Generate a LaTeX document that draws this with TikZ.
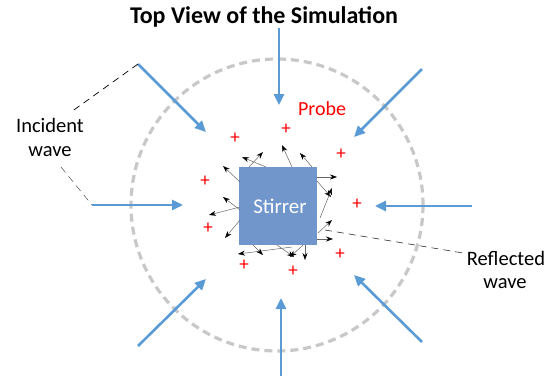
\documentclass[tikz,border=0pt]{standalone}
\usepackage{fontspec}
\setmainfont{Carlito}
\usepackage{xcolor}
\usetikzlibrary{arrows.meta}

\definecolor{wave}{RGB}{91,155,213}
\definecolor{stirfill}{RGB}{112,150,204}
\definecolor{ring}{RGB}{200,200,200}

\tikzset{
  incident/.style={wave,line width=2.6pt,-{Triangle[length=11pt,width=10pt]}},
  reflected/.style={black!60,line width=0.5pt,-{Stealth[color=black,length=7pt,width=5pt]}},
  leader/.style={black,line width=0.7pt,dash pattern=on 7pt off 5pt},
  probemark/.style={red,font=\fontsize{19}{19}\selectfont,inner sep=0pt},
  lbl/.style={font=\fontsize{20.5}{20.5}\selectfont,anchor=base,inner sep=0pt},
}

\begin{document}
\begin{tikzpicture}[x=1pt,y=-1pt]
  \useasboundingbox (0,0) rectangle (550,381);
  % title
  \node[font=\bfseries\fontsize{24}{24}\selectfont,anchor=base,inner sep=0pt] (title) at (264,23) {Top View of the Simulation};
  % simulation boundary
  \draw[ring,line width=3.2pt,dash pattern=on 8pt off 5pt] (277,205) circle[radius=146];
  % incident waves
  \foreach \n/\sx/\sy/\ex/\ey in {t/279/28/279/105, tl/138/64/206/132, tr/422/69/354/137,
      l/92/205/183/205, r/472/206/375/206, bl/138/346/206/279, b/281/376/281/298, br/422/342/354/275}
  {
    \coordinate (in\n) at (\sx,\sy);
    \draw[incident] (in\n) -- (\ex,\ey);
  }
  % stirrer
  \node[fill=stirfill,minimum width=78pt,minimum height=78pt,inner sep=0pt] (stirrer) at (278,206) {};
  \node[lbl,white,font=\fontsize{21}{21}\selectfont] (stirtext) at (280,213) {Stirrer};
  % reflected waves
  \foreach \xa/\ya/\xb/\yb in {249/167/263/152, 266/167/242/157, 292/167/282/145, 312/167/300/153,
      317/177/337/177, 317/181/331/197, 320/218/332/188, 318/233/332/220, 317/239/333/239,
      305/245/305/260, 303/245/290/257, 277/245/294/257, 292/247/238/254, 253/245/263/255,
      240/207/209/215, 240/220/225/238, 240/182/223/166, 240/210/223/197}
    \draw[reflected] (\xa,\ya) -- (\xb,\yb);
  % probes
  \foreach \x/\y [count=\i] in {235/138, 286/129, 341/154, 205/181, 357/204, 208/228, 340/254, 244/265, 293/271}
    \node[probemark] (p\i) at (\x,\y) {+};
  \node[lbl,red,font=\fontsize{20}{20}\selectfont] (probe) at (322,115) {Probe};
  % labels
  \node[lbl] (incident) at (50,132) {Incident};
  \node[lbl] (incwave) at (50,156) {wave};
  \draw[leader] (intl) -- (71,112);
  \draw[leader,black!70,line width=0.5pt] (61,167) -- (inl);
  \node[lbl] (reflected) at (506,265) {Reflected};
  \node[lbl] (refwave) at (505,288) {wave};
  \draw[leader,black!80,line width=0.6pt] (325,230) -- (463,253);
\end{tikzpicture}
\end{document}
